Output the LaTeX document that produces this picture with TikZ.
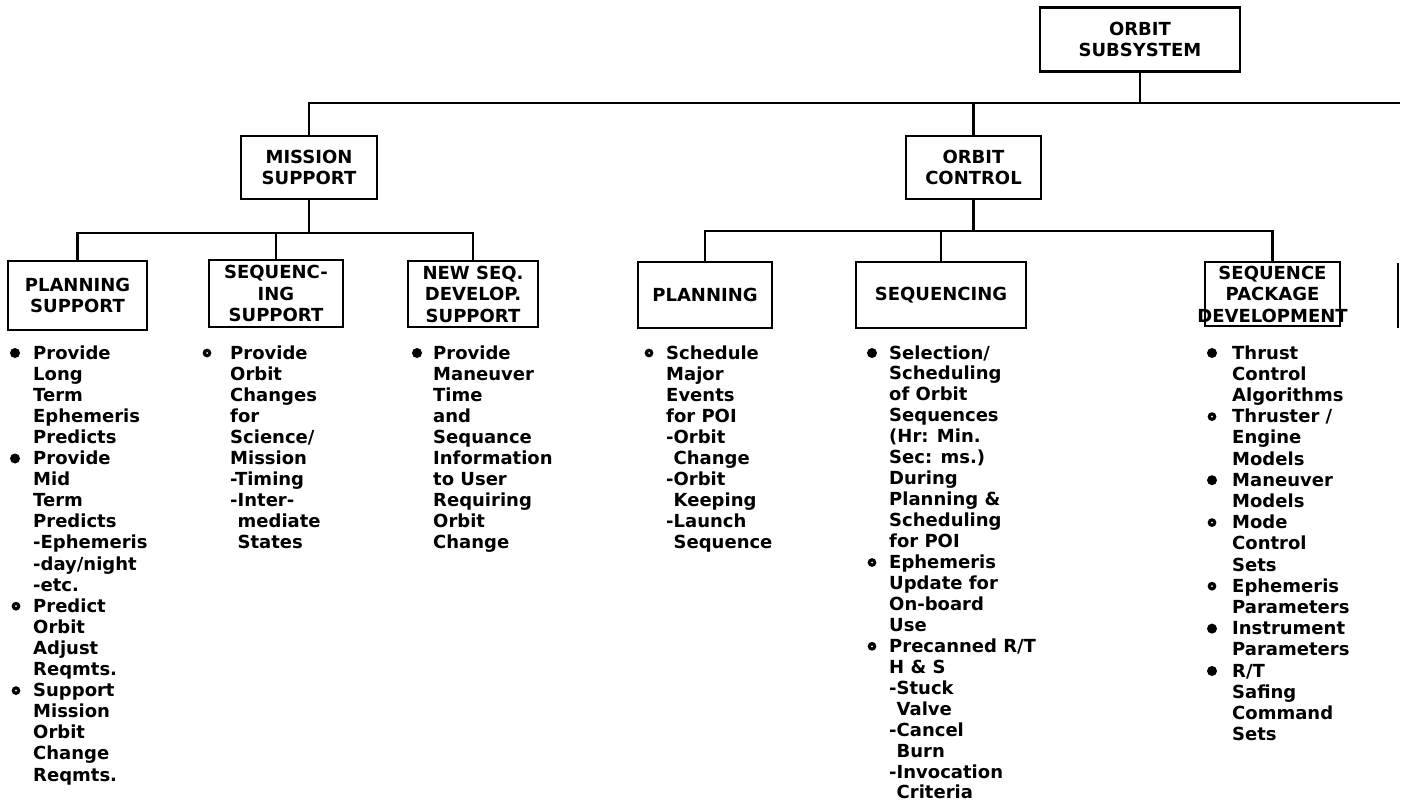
\documentclass[tikz,border=0pt]{standalone}
\usepackage{fontspec}
\setmainfont{DejaVu Sans}
\newcommand\lblfont{\bfseries\fontsize{18}{21.5}\selectfont}
\newcommand\txtfont{\bfseries\fontsize{18}{21}\selectfont}
\tikzset{
  box/.style={draw, line width=2.6pt, align=center, font=\lblfont, inner sep=0pt},
  ln/.style={line width=2.6pt},
  item/.style={anchor=base west, inner sep=0pt, font=\txtfont},
  dotb/.style={fill=black},
}
\begin{document}
\begin{tikzpicture}[x=1pt,y=-1pt]
\useasboundingbox[fill=white] (0,0) rectangle (1407,805);
% ---------- boxes
\node[box, minimum width=200pt, minimum height=64pt] (os) at (1140,39.5) {ORBIT\\SUBSYSTEM};
\node[box, minimum width=136pt, minimum height=63pt] (ms) at (309,167.5) {MISSION\\SUPPORT};
\node[box, minimum width=135pt, minimum height=63pt] (oc) at (973.5,167.5) {ORBIT\\CONTROL};
\node[box, minimum width=139pt, minimum height=69pt] (ps) at (77.5,295.5) {PLANNING\\SUPPORT};
\node[box, minimum width=134pt, minimum height=67pt] (sis) at (276,293.5) {SEQUENC-\\ING\\SUPPORT};
\node[box, minimum width=130pt, minimum height=66pt] (nsds) at (473,294) {NEW SEQ.\\DEVELOP.\\SUPPORT};
\node[box, minimum width=134pt, minimum height=66pt] (pl) at (705,295) {PLANNING};
\node[box, minimum width=170pt, minimum height=66pt] (sq) at (941,295) {SEQUENCING};
\node[box, minimum width=135pt, minimum height=64pt] (spd) at (1272.5,294) {SEQUENCE\\PACKAGE\\\makebox[130pt]{DEVELOPMENT}};
% ---------- connectors
\coordinate (tr) at (1400,103);
\coordinate (mb) at (0,233);
\coordinate (cb) at (0,231);
\draw[ln] (ms.north) |- (tr);
\draw[ln] (os.south) -- (os.south |- tr);
\draw[ln] (oc.north) -- (oc.north |- tr);
\draw[ln] (ps.north) |- (nsds.north |- mb) -- (nsds.north);
\draw[ln] (sis.north) -- (sis.north |- mb);
\draw[ln] (ms.south) -- (ms.south |- mb);
\draw[ln] (pl.north) |- (spd.north |- cb) -- (spd.north);
\draw[ln] (sq.north) -- (sq.north |- cb);
\draw[ln] (oc.south) -- (oc.south |- cb);
\coordinate (e1) at (1398,263);
\coordinate (e2) at (1398,328);
\draw[ln] (e1) -- (e2);
% ---------- lists
\foreach \t [count=\i] in {Provide,Long,Term,Ephemeris,Predicts,Provide,Mid,Term,Predicts,-Ephemeris,-day/night,-etc.,Predict,Orbit,Adjust,Reqmts.,Support,Mission,Orbit,Change,Reqmts.}
  \node[item] (psl\i) at (33,{359+(\i-1)*21.1}) {\t};
\foreach \t [count=\i] in {Provide,Orbit,Changes,for,Science/,Mission,-Timing,-Inter-,{\hphantom{-}mediate},{\hphantom{-}States}}
  \node[item] (sisl\i) at (230,{359+(\i-1)*21.1}) {\t};
\foreach \t [count=\i] in {Provide,Maneuver,Time,and,Sequance,Information,to User,Requiring,Orbit,Change}
  \node[item] (nsl\i) at (433,{359+(\i-1)*21.1}) {\t};
\foreach \t [count=\i] in {Schedule,Major,Events,for POI,-Orbit,{\hphantom{-}Change},-Orbit,{\hphantom{-}Keeping},-Launch,{\hphantom{-}Sequence}}
  \node[item] (pll\i) at (666,{359+(\i-1)*21.1}) {\t};
\foreach \t [count=\i] in {Selection/,Scheduling,of Orbit,Sequences,{(Hr: Min.},{Sec: ms.)},During,{Planning \&},Scheduling,for POI,Ephemeris,Update for,On-board,Use,Precanned R/T,{H \& S},-Stuck,{\hphantom{-}Valve},-Cancel,{\hphantom{-}Burn},-Invocation,{\hphantom{-}Criteria}}
  \node[item] (sql\i) at (889,{359+(\i-1)*20.95}) {\t};
\foreach \t [count=\i] in {Thrust,Control,Algorithms,Thruster /,Engine,Models,Maneuver,Models,Mode,Control,Sets,Ephemeris,Parameters,Instrument,Parameters,R/T,Safing,Command,Sets}
  \node[item] (spdl\i) at (1232,{359+(\i-1)*21.2}) {\t};
% ---------- bullets (filled)
\foreach \n/\dx in {psl1/18,psl6/18,nsl1/16,sql1/17,spdl1/20,spdl7/20,spdl14/20,spdl16/20}
  \fill[dotb] ([xshift=-\dx pt,yshift=6pt]\n.base west) circle (5pt);
% ---------- bullets (with a small hole, as printed)
\foreach \n/\dx in {psl13/17,psl17/17,sisl1/23,pll1/17,sql11/17,sql15/17,spdl4/20,spdl9/20,spdl12/20}{
  \fill[dotb] ([xshift=-\dx pt,yshift=6pt]\n.base west) circle (4.4pt);
  \fill[white] ([xshift=-\dx pt,yshift=6pt]\n.base west) circle (1pt);
}
\end{tikzpicture}
\end{document}
